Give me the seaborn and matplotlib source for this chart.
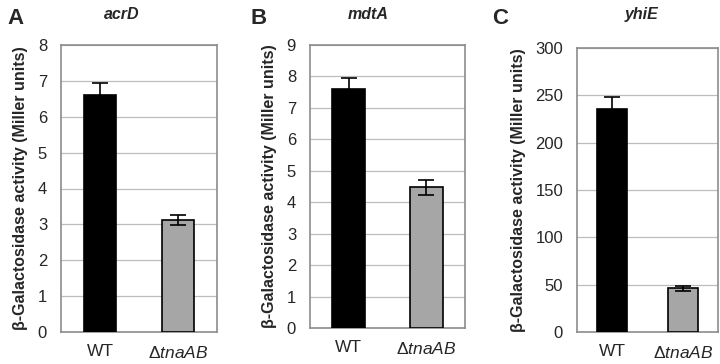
import matplotlib
matplotlib.use('Agg')
import matplotlib.pyplot as plt
import seaborn as sns
import pandas as pd

# Data
strains = ['WT', r'$\Delta\mathit{tnaAB}$']
genes = ['acrD', 'mdtA', 'yhiE']
panel_letters = ['A', 'B', 'C']
acrD_mean = [6.6, 3.12]
acrD_err = [0.35, 0.15]
mdtA_mean = [7.6, 4.48]
mdtA_err = [0.35, 0.24]
yhiE_mean = [236, 46]
yhiE_err = [12, 2.5]
y_limits = [(0, 8), (0, 9), (0, 300)]
y_steps = [1, 1, 50]

sns.set_style("white")
plt.rcParams['font.family'] = ['Liberation Sans', 'DejaVu Sans']
plt.rcParams['mathtext.fontset'] = 'custom'
plt.rcParams['mathtext.rm'] = 'Liberation Sans'
plt.rcParams['mathtext.it'] = 'Liberation Sans:italic'

fig = plt.figure(figsize=(7.2, 3.64), dpi=100)

# axes boxes in pixels: left, top, right, bottom
boxes = [(61, 45, 217, 332), (310, 45, 465, 328), (577, 48, 718, 332)]
letter_x = [16, 259, 500]
title_x = [122, 368, 642]

means = [acrD_mean, mdtA_mean, yhiE_mean]
errs = [acrD_err, mdtA_err, yhiE_err]
bar_colors = ['black', '#a6a6a6']

for i in range(3):
    l, t, r, b = boxes[i]
    ax = fig.add_axes([l / 720, (364 - b) / 364, (r - l) / 720, (b - t) / 364])
    df = pd.DataFrame({'strain': strains, 'value': means[i]})
    sns.barplot(data=df, x='strain', y='value', hue='strain', palette=bar_colors,
                width=0.42, edgecolor='black', linewidth=1.2, legend=False,
                errorbar=None, ax=ax, zorder=3)
    ax.errorbar(range(2), means[i], yerr=errs[i], fmt='none', ecolor='black',
                elinewidth=1.2, capsize=6, capthick=1.2, zorder=4)
    ymin, ymax = y_limits[i]
    ax.set_ylim(ymin, ymax)
    ax.set_yticks(range(ymin, ymax + 1, y_steps[i]))
    ax.set_xlim(-0.5, 1.5)
    ax.grid(axis='y', color='#bdbdbd', linewidth=0.9, zorder=0)
    ax.set_axisbelow(True)
    for spine in ax.spines.values():
        spine.set_edgecolor('#8c8c8c')
        spine.set_linewidth(1.2)
    ax.tick_params(axis='y', length=0, labelsize=12, pad=10)
    ax.tick_params(axis='x', length=0, labelsize=12.5, pad=9)
    ax.set_xlabel('')
    ax.set_ylabel('β-Galactosidase activity (Miller units)', fontsize=11.5,
                  fontweight='bold', labelpad=7)
    fig.text(title_x[i] / 720, 1 - 19 / 364, genes[i], fontsize=11.5,
             fontweight='bold', style='italic', ha='center', va='baseline')
    fig.text(letter_x[i] / 720, 1 - 24 / 364, panel_letters[i], fontsize=16,
             fontweight='bold', ha='center', va='baseline')

fig.savefig('out.png', dpi=100)
